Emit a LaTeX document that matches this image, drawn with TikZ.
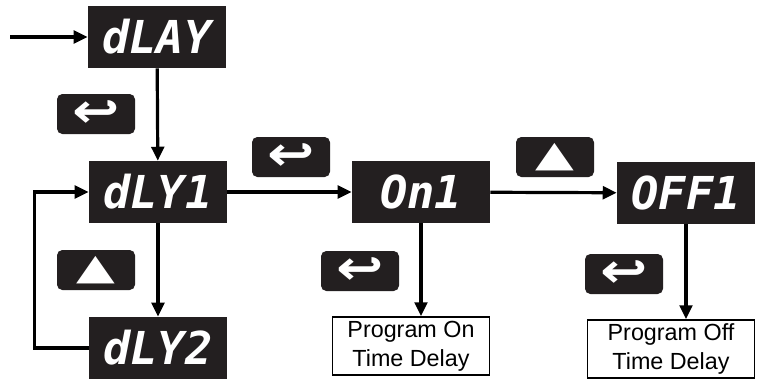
\documentclass[tikz,border=0pt]{standalone}
\usepackage{graphicx}
\usepackage{fontspec}
\setmainfont{Liberation Sans}
\newfontfamily\lcdfont{DejaVu Sans Mono}
\newfontfamily\iconfont{DejaVu Sans}
\usetikzlibrary{arrows.meta,positioning}
\definecolor{panelblack}{RGB}{35,31,32}
\newcommand{\enterglyph}{\scalebox{1.25}[1.05]{↩}}
\newcommand{\upglyph}{\scalebox{1.4}[1]{▲}}

\begin{document}
\begin{tikzpicture}[
  x=0.75pt, y=-0.75pt,
  display/.style={rectangle, fill=panelblack, text=white,
    minimum width=103.5pt, minimum height=46.5pt, inner sep=0pt,
    font=\lcdfont\bfseries\itshape\fontsize{34}{34}\selectfont},
  button/.style={rectangle, rounded corners=4pt, fill=panelblack,
    text=white, minimum width=58.5pt, minimum height=30pt, inner sep=0pt},
  enterkey/.style={button, font=\iconfont\bfseries\fontsize{34}{34}\selectfont},
  upkey/.style={button, font=\iconfont\fontsize{27}{27}\selectfont},
  infobox/.style={rectangle, draw, line width=1.1pt, fill=white,
    minimum height=43.5pt, inner sep=1pt, align=center,
    font=\fontsize{17.5}{22}\selectfont},
  arr/.style={-{Triangle[length=10.5pt,width=9.5pt]}, line width=2.4pt},
]
\useasboundingbox (0,0) rectangle (764,379);

% displays
\node[display] (dlay) at (157,37)  {dLAY};
\node[display] (dly1) at (158,192) {dLY1};
\node[display] (dly2) at (158,348) {dLY2};
\node[display] (on1)  at (421,192) {On1};
\node[display] (off1) at (686,193) {OFF1};

% keys
\node[enterkey] (keya) at (96,114)  {\enterglyph};
\node[upkey]    (keyb) at (96,270)  {\upglyph};
\node[enterkey] (keyc) at (291,157) {\enterglyph};
\node[enterkey] (keyd) at (360,271) {\enterglyph};
\node[upkey]    (keye) at (555,157) {\upglyph};
\node[enterkey] (keyf) at (624,274) {\enterglyph};

% program boxes
\node[infobox, minimum width=117.75pt] (progon)  at (411,346)
  {Program On\\Time Delay};
\node[infobox, minimum width=125pt]    (progoff) at (671,349)
  {Program Off\\Time Delay};

% arrows
\coordinate (entry) at (10,37);
\draw[arr] (entry) -- (dlay);
\draw[arr] (dlay) -- (dly1);
\draw[arr] (dly1) -- (dly2);
\draw[arr] (dly2.west) -- ++(-54,0) |- (dly1.west);
\draw[arr] (dly1) -- (on1);
\draw[arr] (on1) -- (off1);
\draw[arr] (on1.south) -- (on1.south |- progon.north);
\draw[arr] (off1.south) -- (off1.south |- progoff.north);

\end{tikzpicture}
\end{document}
